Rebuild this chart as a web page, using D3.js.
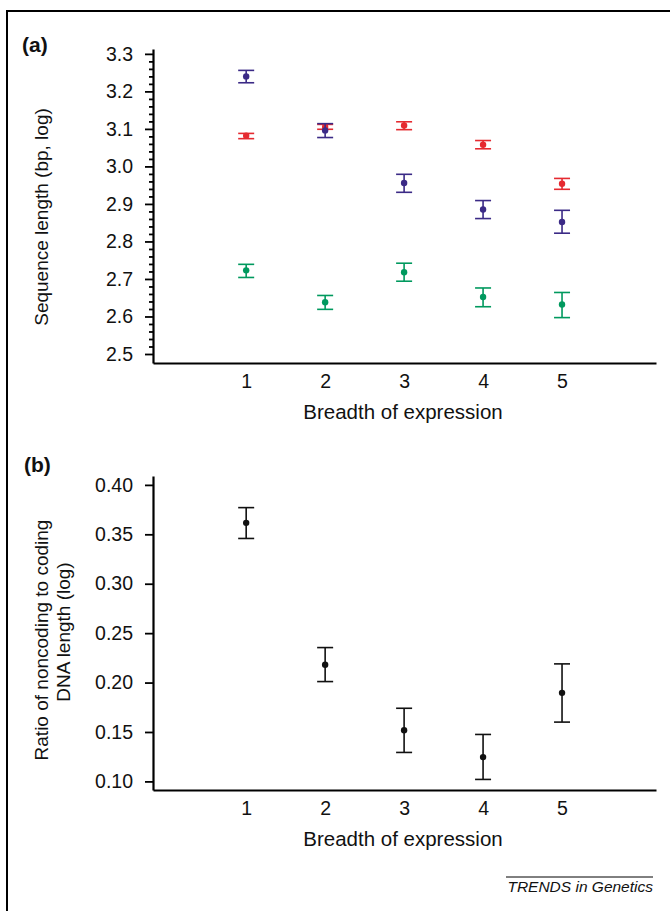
<!DOCTYPE html>
<html>
<head>
<meta charset="utf-8">
<script src="https://cdn.jsdelivr.net/npm/d3@7"></script>
<style>
body { margin:0; background:#fff; }
text { font-family:"Liberation Sans", Arial, sans-serif; fill:#111; }
.axis path, .axis line { stroke:#000; }
</style>
</head>
<body>
<svg id="fig"></svg>
<script>
// breadth of expression categories
var breadth = [1,2,3,4,5];

// panel (a): sequence length (bp, log)
var aTicks = [2.5,2.6,2.7,2.8,2.9,3.0,3.1,3.2,3.3];
var redMean = [3.082,3.105,3.109,3.058,2.954];
var redLo   = [3.074,3.099,3.098,3.047,2.939];
var redHi   = [3.088,3.112,3.119,3.069,2.968];
var purpleMean = [3.240,3.096,2.956,2.885,2.852];
var purpleLo   = [3.223,3.077,2.931,2.861,2.822];
var purpleHi   = [3.256,3.114,2.979,2.909,2.883];
var greenMean = [2.723,2.638,2.718,2.652,2.632];
var greenLo   = [2.704,2.619,2.694,2.626,2.597];
var greenHi   = [2.739,2.656,2.742,2.676,2.664];

// panel (b): ratio of noncoding to coding length
var bTicks = [0.10,0.15,0.20,0.25,0.30,0.35,0.40];
var ratioMean = [0.3616,0.218,0.1518,0.1246,0.1896];
var ratioLo   = [0.3458,0.201,0.1293,0.102,0.160];
var ratioHi   = [0.377,0.2354,0.174,0.1475,0.2189];

var svg = d3.select("#fig").attr("width",670).attr("height",911);

// frame on the left and top
svg.append("path")
    .attr("d","M7,911V11H670")
    .attr("fill","none")
    .attr("stroke","#000")
    .attr("stroke-width",2);

var xScale = d3.scaleLinear().domain([-0.18,6.19]).range([153,656]);

var makeSeries = function(mean,lo,hi)
{
    return breadth.map(function(b,i){ return {x:b, m:mean[i], lo:lo[i], hi:hi[i]}; });
}

var drawErrors = function(target,data,yScale,color)
{
    var g = target.append("g");
    var groups = g.selectAll("g").data(data).enter().append("g");
    groups.append("line")
        .attr("x1",function(d){ return xScale(d.x); })
        .attr("x2",function(d){ return xScale(d.x); })
        .attr("y1",function(d){ return yScale(d.lo); })
        .attr("y2",function(d){ return yScale(d.hi); })
        .attr("stroke",color).attr("stroke-width",1.6);
    ["lo","hi"].forEach(function(k){
        groups.append("line")
            .attr("x1",function(d){ return xScale(d.x)-8; })
            .attr("x2",function(d){ return xScale(d.x)+8; })
            .attr("y1",function(d){ return yScale(d[k]); })
            .attr("y2",function(d){ return yScale(d[k]); })
            .attr("stroke",color).attr("stroke-width",1.6);
    });
    groups.append("circle")
        .attr("cx",function(d){ return xScale(d.x); })
        .attr("cy",function(d){ return yScale(d.m); })
        .attr("r",3.2)
        .attr("fill",color);
}

var drawAxes = function(yScale,ticks,fmt,xAxisY,minor)
{
    var axes = svg.append("g").classed("axis",true);
    var yAxis = d3.axisLeft(yScale).tickValues(ticks).tickFormat(d3.format(fmt))
        .tickSize(8).tickSizeOuter(0).tickPadding(12);
    var ya = axes.append("g").attr("transform","translate(153,0)").call(yAxis);
    ya.select(".domain").attr("stroke-width",2.2);
    ya.selectAll(".tick line").attr("stroke-width",1.8);
    ya.selectAll("text").style("font-size","19.5px").attr("fill","#111");
    if (minor)
    {
        var m = axes.append("g").attr("transform","translate(153,0)")
            .call(d3.axisLeft(yScale).tickValues(minor).tickFormat("").tickSize(4).tickSizeOuter(0));
        m.select(".domain").remove();
        m.selectAll(".tick line").attr("stroke-width",1.8);
    }
    var xAxis = d3.axisBottom(xScale).tickValues(breadth).tickFormat(d3.format("d"))
        .tickSize(0).tickSizeOuter(0).tickPadding(11);
    var xa = axes.append("g").attr("transform","translate(0,"+xAxisY+")").call(xAxis);
    xa.select(".domain").attr("stroke-width",2.2);
    xa.selectAll("text").style("font-size","19.5px").attr("fill","#111");
    svg.append("text")
        .text("Breadth of expression")
        .attr("text-anchor","middle")
        .attr("x",403).attr("y",xAxisY+56)
        .style("font-size","20.5px");
}

// panel (a)
var yA = d3.scaleLinear().domain([2.476,3.313]).range([363,49]);
var minorA = d3.range(0,41).map(function(i){ return 2.5+i*0.02; })
    .filter(function(v,i){ return i%5!=0; });
drawAxes(yA,aTicks,".1f",363,minorA);
var plotA = svg.append("g");
drawErrors(plotA,makeSeries(redMean,redLo,redHi),yA,"#e52a30");
drawErrors(plotA,makeSeries(purpleMean,purpleLo,purpleHi),yA,"#3b2a86");
drawErrors(plotA,makeSeries(greenMean,greenLo,greenHi),yA,"#00995e");

svg.append("text").text("(a)").attr("x",22).attr("y",52)
    .style("font-size","21px").style("font-weight","bold");
svg.append("text").text("Sequence length (bp, log)")
    .attr("text-anchor","middle")
    .attr("transform","translate(48,217) rotate(-90)")
    .style("font-size","19px");

// panel (b)
var yB = d3.scaleLinear().domain([0.0913,0.409]).range([790,476]);
drawAxes(yB,bTicks,".2f",790,null);
var plotB = svg.append("g");
drawErrors(plotB,makeSeries(ratioMean,ratioLo,ratioHi),yB,"#111");

svg.append("text").text("(b)").attr("x",24).attr("y",472)
    .style("font-size","21px").style("font-weight","bold");
svg.append("text").text("Ratio of noncoding to coding")
    .attr("text-anchor","middle")
    .attr("transform","translate(48,640) rotate(-90)")
    .style("font-size","19px");
svg.append("text").text("DNA length (log)")
    .attr("text-anchor","middle")
    .attr("transform","translate(70,632) rotate(-90)")
    .style("font-size","19px");

// journal tag
svg.append("line").attr("x1",506).attr("x2",653).attr("y1",877).attr("y2",877)
    .attr("stroke","#000").attr("stroke-width",1);
svg.append("text").text("TRENDS in Genetics")
    .attr("text-anchor","end")
    .attr("x",653).attr("y",892)
    .style("font-size","15.5px").style("font-style","italic");
</script>
</body>
</html>
